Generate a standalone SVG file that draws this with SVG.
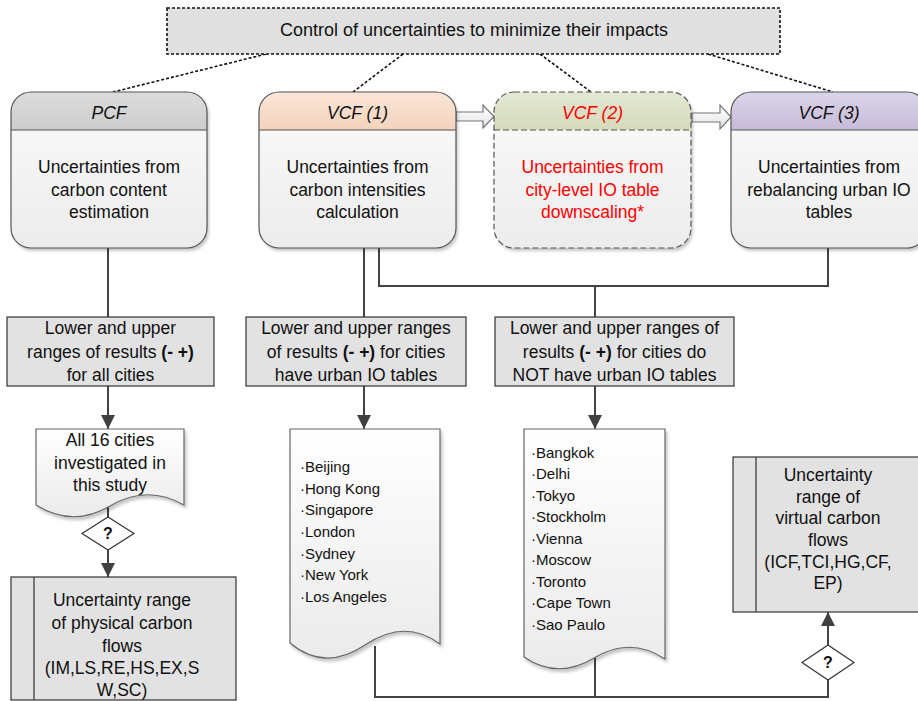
<svg xmlns="http://www.w3.org/2000/svg" width="918" height="701" viewBox="0 0 918 701">
<style>
text{font-family:"Liberation Sans",Arial,sans-serif;fill:#111;}
.t{font-size:17.5px;text-anchor:middle;}
.h{font-size:17.5px;font-style:italic;text-anchor:middle;}
.l{font-size:15px;}
.q{font-size:16px;font-weight:bold;text-anchor:middle;}
.red{fill:#ff0000;}
.outline{fill:none;stroke:#555;stroke-width:1.2;}
.dash{stroke-dasharray:6,3;}
.conn{fill:none;stroke:#444;stroke-width:2;}
.dot{fill:none;stroke:#111;stroke-width:1.6;stroke-dasharray:3,2;}
.topbox{fill:#e0e0e0;stroke:#111;stroke-width:1.6;stroke-dasharray:3,2;}
.gbox{fill:#e2e2e2;stroke:#333;stroke-width:1.2;}
.doc{fill:url(#docg);stroke:#666;stroke-width:1.2;}
.dia{fill:#fff;stroke:#333;stroke-width:1.2;}
.harrow{fill:url(#hag);stroke:#777;stroke-width:1.2;}
</style>
<defs>
<linearGradient id="body" x1="0" y1="0" x2="0" y2="1"><stop offset="0" stop-color="#fbfbfb"/><stop offset="1" stop-color="#ececec"/></linearGradient>
<linearGradient id="docg" x1="0" y1="0" x2="0" y2="1"><stop offset="0" stop-color="#ffffff"/><stop offset="1" stop-color="#ebebeb"/></linearGradient>
<linearGradient id="hag" x1="0" y1="0" x2="0" y2="1"><stop offset="0" stop-color="#ffffff"/><stop offset="1" stop-color="#e4e4e4"/></linearGradient>
<linearGradient id="h0" x1="0" y1="0" x2="0" y2="1"><stop offset="0" stop-color="#dcdcdc"/><stop offset="1" stop-color="#cdcdcd"/></linearGradient>
<linearGradient id="h1" x1="0" y1="0" x2="0" y2="1"><stop offset="0" stop-color="#fbe6d8"/><stop offset="1" stop-color="#f3d3bd"/></linearGradient>
<linearGradient id="h2" x1="0" y1="0" x2="0" y2="1"><stop offset="0" stop-color="#e3e8d4"/><stop offset="1" stop-color="#d4dbba"/></linearGradient>
<linearGradient id="h3" x1="0" y1="0" x2="0" y2="1"><stop offset="0" stop-color="#dcd5e8"/><stop offset="1" stop-color="#c6bbd9"/></linearGradient>
<filter id="sh" x="-10%" y="-10%" width="120%" height="130%"><feDropShadow dx="2" dy="3" stdDeviation="1.5" flood-color="#000" flood-opacity="0.22"/></filter>
<marker id="ah" markerWidth="14" markerHeight="14" refX="14" refY="7" orient="auto" markerUnits="userSpaceOnUse"><path d="M0,0 L14,7 L0,14 Z" fill="#404040"/></marker>
</defs>

<g id="connectors">
<line class="dot" x1="266" y1="54" x2="113" y2="92"/>
<line class="dot" x1="403" y1="54" x2="353" y2="92"/>
<line class="dot" x1="540" y1="54" x2="591" y2="92"/>
<line class="dot" x1="708" y1="54" x2="833" y2="92"/>
<line class="conn" x1="108" y1="248" x2="108" y2="317"/>
<line class="conn" x1="364" y1="248" x2="364" y2="317"/>
<polyline class="conn" points="379,248 379,286 828,286 828,248"/>
<line class="conn" x1="595" y1="286" x2="595" y2="317"/>
<line class="conn" x1="108" y1="386" x2="108" y2="429" marker-end="url(#ah)"/>
<line class="conn" x1="364" y1="386" x2="364" y2="429" marker-end="url(#ah)"/>
<line class="conn" x1="595" y1="386" x2="595" y2="429" marker-end="url(#ah)"/>
<line class="conn" x1="108" y1="506" x2="108" y2="517"/>
<line class="conn" x1="108" y1="550" x2="108" y2="577" marker-end="url(#ah)"/>
<polyline class="conn" points="375,646 375,697 828,697 828,680"/>
<line class="conn" x1="595" y1="658" x2="595" y2="697"/>
<line class="conn" x1="828" y1="645" x2="828" y2="612" marker-end="url(#ah)"/>
<path class="harrow" d="M456,112 H483 V105 L494,116.5 L483,128 V121 H456 Z"/>
<path class="harrow" d="M692,113 H720 V105 L731,117 L720,129 V122 H692 Z"/>
</g>

<g id="control">
<rect class="topbox" x="167" y="8" width="613" height="46"/>
<text class="t" x="474" y="36" style="font-size:18px">Control of uncertainties to minimize their impacts</text>
</g>

<g id="pcf">
<rect x="11" y="92" width="196" height="156" rx="20" fill="url(#body)" filter="url(#sh)"/>
<path d="M11,130 V112 A20,20 0 0 1 31,92 H187 A20,20 0 0 1 207,112 V130 Z" fill="url(#h0)"/>
<line x1="11" y1="130" x2="207" y2="130" stroke="#555" stroke-width="1.2"/>
<rect class="outline" x="11" y="92" width="196" height="156" rx="20"/>
<text class="h" x="109" y="119">PCF</text>
<text class="t" x="109" y="173">Uncertainties from</text>
<text class="t" x="109" y="196">carbon content</text>
<text class="t" x="109" y="218">estimation</text>
</g>

<g id="vcf1">
<rect x="259" y="92" width="197" height="156" rx="20" fill="url(#body)" filter="url(#sh)"/>
<path d="M259,130 V112 A20,20 0 0 1 279,92 H436 A20,20 0 0 1 456,112 V130 Z" fill="url(#h1)"/>
<line x1="259" y1="130" x2="456" y2="130" stroke="#555" stroke-width="1.2"/>
<rect class="outline" x="259" y="92" width="197" height="156" rx="20"/>
<text class="h" x="357.5" y="119">VCF (1)</text>
<text class="t" x="357.5" y="173">Uncertainties from</text>
<text class="t" x="357.5" y="196">carbon intensities</text>
<text class="t" x="357.5" y="218">calculation</text>
</g>

<g id="vcf2">
<rect x="494" y="92" width="197" height="156" rx="20" fill="url(#body)" filter="url(#sh)"/>
<path d="M494,130 V112 A20,20 0 0 1 514,92 H671 A20,20 0 0 1 691,112 V130 Z" fill="url(#h2)"/>
<line class="dash" x1="494" y1="130" x2="691" y2="130" stroke="#555" stroke-width="1.2"/>
<rect class="outline dash" x="494" y="92" width="197" height="156" rx="20"/>
<text class="h red" x="592.5" y="119">VCF (2)</text>
<text class="t red" x="592.5" y="173">Uncertainties from</text>
<text class="t red" x="592.5" y="196">city-level IO table</text>
<text class="t red" x="592.5" y="218">downscaling*</text>
</g>

<g id="vcf3">
<rect x="731" y="92" width="196" height="156" rx="20" fill="url(#body)" filter="url(#sh)"/>
<path d="M731,130 V112 A20,20 0 0 1 751,92 H907 A20,20 0 0 1 927,112 V130 Z" fill="url(#h3)"/>
<line x1="731" y1="130" x2="927" y2="130" stroke="#555" stroke-width="1.2"/>
<rect class="outline" x="731" y="92" width="196" height="156" rx="20"/>
<text class="h" x="829" y="119">VCF (3)</text>
<text class="t" x="829" y="173">Uncertainties from</text>
<text class="t" x="829" y="196">rebalancing urban IO</text>
<text class="t" x="829" y="218">tables</text>
</g>

<g id="rangeAll">
<rect class="gbox" x="7" y="317" width="207" height="69"/>
<text class="t" x="110.5" y="334">Lower and upper</text>
<text class="t" x="110.5" y="358">ranges of results <tspan font-weight="bold">(- +)</tspan></text>
<text class="t" x="110.5" y="381">for all cities</text>
</g>

<g id="rangeUrban">
<rect class="gbox" x="246" y="317" width="220" height="69"/>
<text class="t" x="356" y="334">Lower and upper ranges</text>
<text class="t" x="356" y="358">of results <tspan font-weight="bold">(- +)</tspan> for cities</text>
<text class="t" x="356" y="381">have urban IO tables</text>
</g>

<g id="rangeNoUrban">
<rect class="gbox" x="495" y="317" width="239" height="69"/>
<text class="t" x="614.5" y="334">Lower and upper ranges of</text>
<text class="t" x="614.5" y="358">results <tspan font-weight="bold">(- +)</tspan> for cities do</text>
<text class="t" x="614.5" y="381">NOT have urban IO tables</text>
</g>

<g id="docAll">
<path class="doc" filter="url(#sh)" d="M36,429 H184 V505 Q147,484 110,506 T36,505 Z"/>
<text class="t" x="110" y="446">All 16 cities</text>
<text class="t" x="110" y="469">investigated in</text>
<text class="t" x="110" y="491">this study</text>
</g>

<g id="q1">
<path class="dia" d="M108,517 L134,533.5 L108,550 L82,533.5 Z"/>
<text class="q" x="108" y="539">?</text>
</g>

<g id="physical">
<rect class="gbox" x="11" y="577" width="225" height="123"/>
<line x1="34" y1="577" x2="34" y2="700" stroke="#333" stroke-width="1.2"/>
<text class="t" x="122" y="606">Uncertainty range</text>
<text class="t" x="122" y="629">of physical carbon</text>
<text class="t" x="122" y="652">flows</text>
<text class="t" x="122" y="674">(IM,LS,RE,HS,EX,S</text>
<text class="t" x="122" y="696">W,SC)</text>
</g>

<g id="docUrban">
<path class="doc" filter="url(#sh)" d="M290,429 H440 V644 Q405,618 365,645 T290,643 Z"/>
<text class="l" x="300" y="472">·Beijing</text>
<text class="l" x="300" y="494">·Hong Kong</text>
<text class="l" x="300" y="515">·Singapore</text>
<text class="l" x="300" y="537">·London</text>
<text class="l" x="300" y="559">·Sydney</text>
<text class="l" x="300" y="580">·New York</text>
<text class="l" x="300" y="602">·Los Angeles</text>
</g>

<g id="docNoUrban">
<path class="doc" filter="url(#sh)" d="M524,429 H665 V659 Q630,636 594,658 T524,657 Z"/>
<text class="l" x="531" y="458">·Bangkok</text>
<text class="l" x="531" y="479">·Delhi</text>
<text class="l" x="531" y="501">·Tokyo</text>
<text class="l" x="531" y="522">·Stockholm</text>
<text class="l" x="531" y="544">·Vienna</text>
<text class="l" x="531" y="565">·Moscow</text>
<text class="l" x="531" y="587">·Toronto</text>
<text class="l" x="531" y="608">·Cape Town</text>
<text class="l" x="531" y="630">·Sao Paulo</text>
</g>

<g id="q2">
<path class="dia" d="M828,645 L854,662.5 L828,680 L802,662.5 Z"/>
<text class="q" x="828" y="668">?</text>
</g>

<g id="virtual">
<rect class="gbox" x="733" y="457" width="190" height="155"/>
<line x1="756" y1="457" x2="756" y2="612" stroke="#333" stroke-width="1.2"/>
<text class="t" x="828" y="481">Uncertainty</text>
<text class="t" x="828" y="503">range of</text>
<text class="t" x="828" y="524">virtual carbon</text>
<text class="t" x="828" y="546">flows</text>
<text class="t" x="828" y="568">(ICF,TCI,HG,CF,</text>
<text class="t" x="828" y="589">EP)</text>
</g>
</svg>
